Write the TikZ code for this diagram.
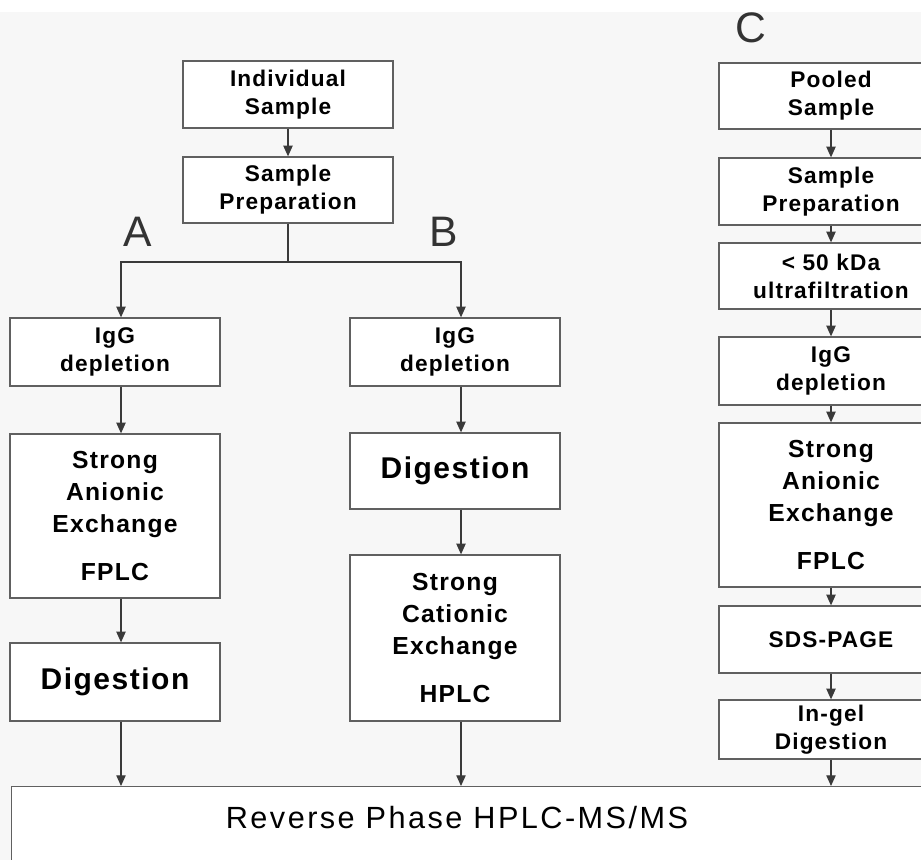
\documentclass[tikz,border=0pt]{standalone}
\usepackage{fontspec}
\setmainfont{Liberation Sans}
\newfontfamily\boxfont[LetterSpace=5]{Liberation Sans}
\newfontfamily\rpfont[LetterSpace=8]{Liberation Sans}
\usepackage{tikz}
\usetikzlibrary{arrows.meta}
\definecolor{bggray}{HTML}{F7F7F7}
\definecolor{boxline}{HTML}{606060}
\definecolor{arrline}{HTML}{3A3A3A}

\begin{document}
\begin{tikzpicture}[x=0.75pt, y=-0.75pt,
      every node/.append style={align=center, text=black},
      arr/.style={-{Triangle[length=8pt,width=7pt]}, line width=0.8pt, draw=arrline}]
    \tikzstyle{stepbox} = [draw=boxline, fill=white, line width=1pt, inner sep=0pt,
      minimum width=157.5pt, font=\boxfont\bfseries\fontsize{17}{21}\selectfont]
    \tikzstyle{longbox} = [stepbox, font=\boxfont\bfseries\fontsize{18.5}{24}\selectfont]
    \tikzstyle{onebox} = [stepbox, font=\boxfont\bfseries\fontsize{22.5}{27}\selectfont]
    \tikzstyle{widebox} = [minimum width=168pt]
    \tikzstyle{tag} = [font=\fontsize{32}{32}\selectfont, text=black!80]
    \useasboundingbox (0,0) rectangle (921,860);
    \clip (0,0) rectangle (921,860);
    \fill[white] (0,0) rectangle (921,12);
    \fill[bggray] (0,12) rectangle (921,860);
    % columns
    \coordinate (colA) at (121,0);
    \coordinate (colB) at (461,0);
    \coordinate (colC) at (831,0);
    \coordinate (split) at (288,262);
    % top
    \node (indiv) [stepbox, minimum height=50.25pt] at (288,94.5) {Individual\\Sample};
    \node (prep) [stepbox, minimum height=49.5pt] at (288,190) {Sample\\Preparation};
    \node (tagA) [tag] at (138,232) {A};
    \node (tagB) [tag] at (444,232) {B};
    \node (tagC) [tag] at (751,28) {C};
    % A
    \node (igA) [stepbox, minimum height=51pt] at (115,352) {IgG\\depletion};
    \node (saxA) [longbox, minimum height=123pt] at (115,516) {Strong\\Anionic\\Exchange\\[12pt]FPLC};
    \node (digA) [onebox, minimum height=58.5pt] at (115,682) {Digestion};
    % B
    \node (igB) [stepbox, minimum height=51pt] at (455,352) {IgG\\depletion};
    \node (digB) [onebox, minimum height=57pt] at (455,471) {Digestion};
    \node (scxB) [longbox, minimum height=124.5pt] at (455,638) {Strong\\Cationic\\Exchange\\[12pt]HPLC};
    % C
    \node (pool) [stepbox, widebox, minimum height=49.5pt] at (831,96) {Pooled\\Sample};
    \node (prepC) [stepbox, widebox, minimum height=50.25pt] at (831,191.5) {Sample\\Preparation};
    \node (ufC) [stepbox, widebox, minimum height=49.5pt] at (831,276) {< 50 kDa\\ultrafiltration};
    \node (igC) [stepbox, widebox, minimum height=51pt] at (831,371) {IgG\\depletion};
    \node (saxC) [longbox, widebox, minimum height=123pt] at (831,505) {Strong\\Anionic\\Exchange\\[12pt]FPLC};
    \node (sds) [stepbox, widebox, minimum height=50.25pt] at (831,639.5) {SDS-PAGE};
    \node (ingel) [stepbox, widebox, minimum height=44.25pt] at (831,729.5) {In-gel\\Digestion};
    % bottom
    \node (rp) [stepbox, anchor=north west, minimum width=750pt, minimum height=112.5pt] at (11,786) {};
    \node (rptext) [font=\rpfont\fontsize{23}{23}\selectfont] at (457,818) {Reverse Phase HPLC-MS/MS};
    % arrows
    \draw[arr] (indiv) -- (prep);
    \draw[arr, -] (prep) -- (split);
    \draw[arr] (split) -| (igA.north -| colA);
    \draw[arr] (split) -| (igB.north -| colB);
    \draw[arr] (igA.south -| colA) -- (saxA.north -| colA);
    \draw[arr] (saxA.south -| colA) -- (digA.north -| colA);
    \draw[arr] (digA.south -| colA) -- (rp.north -| colA);
    \draw[arr] (igB.south -| colB) -- (digB.north -| colB);
    \draw[arr] (digB.south -| colB) -- (scxB.north -| colB);
    \draw[arr] (scxB.south -| colB) -- (rp.north -| colB);
    \draw[arr] (pool) -- (prepC);
    \draw[arr] (prepC) -- (ufC);
    \draw[arr] (ufC) -- (igC);
    \draw[arr] (igC) -- (saxC);
    \draw[arr] (saxC) -- (sds);
    \draw[arr] (sds) -- (ingel);
    \draw[arr] (ingel.south -| colC) -- (rp.north -| colC);
\end{tikzpicture}
\end{document}
